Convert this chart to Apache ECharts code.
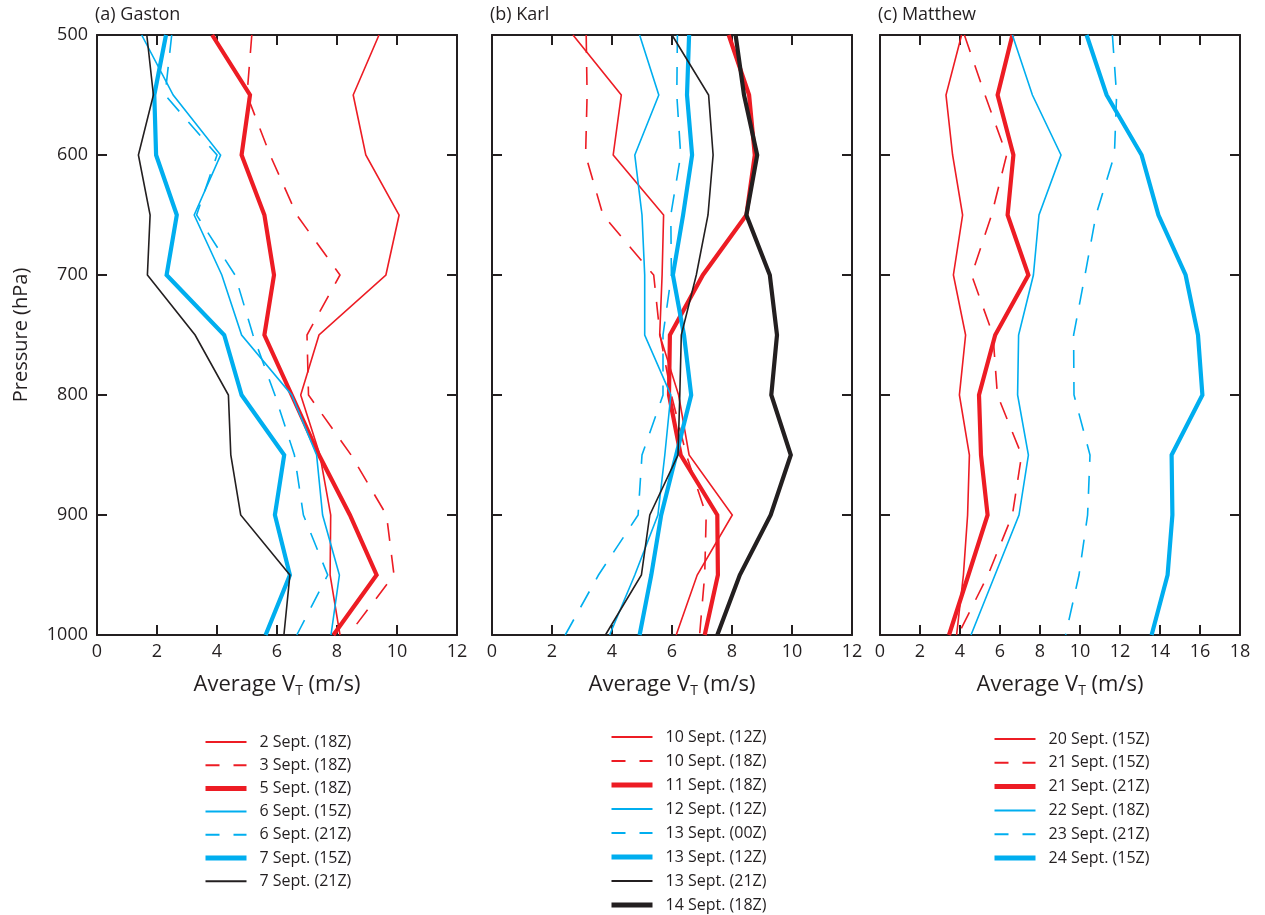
<!DOCTYPE html>
<html>
<head>
<meta charset="utf-8">
<script src="https://cdn.jsdelivr.net/npm/echarts@6/dist/echarts.min.js"></script>
<style>
  html, body { margin: 0; padding: 0; background: #fff; }
  #chart { width: 1265px; height: 915px; }
</style>
</head>
<body>
<div id="chart"></div>
<script>
// Pressure levels (hPa), shared by every profile
const pressureLevels = [500, 550, 600, 650, 700, 750, 800, 850, 900, 950, 1000];
const pressureTicks = [500, 600, 700, 800, 900, 1000];

// (a) Gaston — average tangential wind (m/s) at each level
const gaston_2Sep18Z = [9.4, 8.54, 8.96, 10.07, 9.63, 7.4, 6.79, 7.43, 7.79, 7.77, 8.1];
const gaston_3Sep18Z = [5.16, 5.0, 5.77, 6.66, 8.1, 7.0, 7.05, 8.47, 9.65, 9.9, 8.38];
const gaston_5Sep18Z = [3.84, 5.1, 4.82, 5.58, 5.9, 5.58, 6.49, 7.4, 8.43, 9.32, 7.88];
const gaston_6Sep15Z = [1.49, 2.54, 4.12, 3.24, 4.16, 4.82, 6.49, 7.32, 7.52, 8.08, 7.8];
const gaston_6Sep21Z = [2.49, 2.27, 4.0, 3.32, 4.6, 5.2, 5.93, 6.58, 6.88, 7.69, 6.66];
const gaston_7Sep15Z = [2.3, 1.91, 1.97, 2.66, 2.32, 4.24, 4.82, 6.24, 5.93, 6.43, 5.62];
const gaston_7Sep21Z = [1.66, 1.88, 1.38, 1.77, 1.68, 3.27, 4.38, 4.46, 4.79, 6.43, 6.23];

// (b) Karl
const karl_10Sep12Z = [2.7, 4.31, 4.04, 5.72, 5.67, 5.59, 6.22, 6.57, 8.01, 6.84, 6.14];
const karl_10Sep18Z = [3.14, 3.17, 3.12, 3.7, 5.39, 5.6, 5.98, 6.48, 7.14, 7.09, 6.92];
const karl_11Sep18Z = [7.89, 8.57, 8.76, 8.48, 7.03, 5.93, 5.9, 6.29, 7.51, 7.53, 7.09];
const karl_12Sep12Z = [4.92, 5.56, 4.76, 5.0, 5.09, 5.09, 5.96, 5.76, 5.53, 4.76, 3.92];
const karl_13Sep00Z = [6.18, 6.16, 6.29, 5.96, 5.98, 5.7, 5.7, 5.0, 4.87, 3.55, 2.44];
const karl_13Sep12Z = [6.57, 6.5, 6.67, 6.37, 6.03, 6.4, 6.64, 6.14, 5.64, 5.31, 4.92];
const karl_13Sep21Z = [6.0, 7.22, 7.37, 7.2, 6.81, 6.31, 6.26, 6.2, 5.26, 4.98, 3.78];
const karl_14Sep18Z = [8.12, 8.4, 8.84, 8.48, 9.26, 9.5, 9.31, 9.96, 9.29, 8.26, 7.51];

// (c) Matthew
const matthew_20Sep15Z = [4.08, 3.3, 3.63, 4.13, 3.67, 4.28, 3.97, 4.47, 4.38, 4.17, 3.83];
const matthew_21Sep15Z = [4.22, 5.25, 6.33, 5.58, 4.58, 5.65, 5.87, 7.08, 6.62, 5.4, 3.9];
const matthew_21Sep21Z = [6.62, 5.88, 6.67, 6.38, 7.42, 5.76, 4.95, 5.05, 5.38, 4.42, 3.45];
const matthew_22Sep18Z = [6.62, 7.62, 9.05, 7.95, 7.67, 6.93, 6.88, 7.42, 6.95, 5.75, 4.55];
const matthew_23Sep21Z = [11.62, 11.83, 11.72, 10.8, 10.25, 9.68, 9.7, 10.5, 10.38, 9.95, 9.28];
const matthew_24Sep15Z = [10.33, 11.33, 13.08, 13.92, 15.28, 15.9, 16.12, 14.58, 14.62, 14.38, 13.58];

const panelTitles = ['(a) Gaston', '(b) Karl', '(c) Matthew'];
const xMaxes = [12, 12, 18];

const RED = '#ed1c24', BLUE = '#00aeef', BLACK = '#231f20';
const INK = '#231f20';
const FONT = 'Open Sans';
const THIN = 1.6, THICK = 4.2;
const DASH = [18, 14];
const LEGEND_DASH = [14, 14];

// Each profile: label, values, colour, width, dashed
const panels = [
  [
    ['2 Sept. (18Z)', gaston_2Sep18Z, RED, THIN, false],
    ['3 Sept. (18Z)', gaston_3Sep18Z, RED, THIN, true],
    ['5 Sept. (18Z)', gaston_5Sep18Z, RED, THICK, false],
    ['6 Sept. (15Z)', gaston_6Sep15Z, BLUE, THIN, false],
    ['6 Sept. (21Z)', gaston_6Sep21Z, BLUE, THIN, true],
    ['7 Sept. (15Z)', gaston_7Sep15Z, BLUE, THICK, false],
    ['7 Sept. (21Z)', gaston_7Sep21Z, BLACK, THIN, false]
  ],
  [
    ['10 Sept. (12Z)', karl_10Sep12Z, RED, THIN, false],
    ['10 Sept. (18Z)', karl_10Sep18Z, RED, THIN, true],
    ['11 Sept. (18Z)', karl_11Sep18Z, RED, THICK, false],
    ['12 Sept. (12Z)', karl_12Sep12Z, BLUE, THIN, false],
    ['13 Sept. (00Z)', karl_13Sep00Z, BLUE, THIN, true],
    ['13 Sept. (12Z)', karl_13Sep12Z, BLUE, THICK, false],
    ['13 Sept. (21Z)', karl_13Sep21Z, BLACK, THIN, false],
    ['14 Sept. (18Z)', karl_14Sep18Z, BLACK, THICK, false]
  ],
  [
    ['20 Sept. (15Z)', matthew_20Sep15Z, RED, THIN, false],
    ['21 Sept. (15Z)', matthew_21Sep15Z, RED, THIN, true],
    ['21 Sept. (21Z)', matthew_21Sep21Z, RED, THICK, false],
    ['22 Sept. (18Z)', matthew_22Sep18Z, BLUE, THIN, false],
    ['23 Sept. (21Z)', matthew_23Sep21Z, BLUE, THIN, true],
    ['24 Sept. (15Z)', matthew_24Sep15Z, BLUE, THICK, false]
  ]
];

// Layout of the three frames and their legends
const gridLefts = [97, 492, 880];
const gridWidth = 360;
const gridTop = 35, gridHeight = 600;
const legendPos = [
  { left: 203, top: 733, gap: 5.2 },
  { left: 609, top: 728, gap: 6.0 },
  { left: 992, top: 730, gap: 5.8 }
];

const grid = [], xAxis = [], yAxis = [], series = [], legend = [], title = [];

panels.forEach((profiles, i) => {
  grid.push({ left: gridLefts[i], top: gridTop, width: gridWidth, height: gridHeight });

  title.push({
    text: panelTitles[i], left: gridLefts[i] - 2, top: 6, padding: 0,
    textStyle: { fontFamily: FONT, fontSize: 18, fontWeight: 'normal', color: INK }
  });

  const frameLine = { show: true, onZero: false, lineStyle: { color: INK, width: 2 } };
  const tick = { show: true, inside: true, length: 10, lineStyle: { color: INK, width: 2 } };

  // bottom axis with labels and name (V with subscript T)
  xAxis.push({
    type: 'value', gridIndex: i, position: 'bottom', min: 0, max: xMaxes[i], interval: 2,
    axisLine: frameLine, axisTick: tick, splitLine: { show: false },
    axisLabel: { fontFamily: FONT, fontSize: 18, color: INK, margin: 8 },
    name: '{m|Average V}{sub|T}{m| (m/s)}', nameLocation: 'middle', nameGap: 39,
    nameTextStyle: {
      fontFamily: FONT, fontSize: 22, color: INK,
      rich: {
        m: { fontFamily: FONT, fontSize: 22, color: INK, lineHeight: 24, verticalAlign: 'top' },
        sub: { fontFamily: FONT, fontSize: 14, color: INK, lineHeight: 14, verticalAlign: 'bottom' }
      }
    }
  });
  // top axis: ticks only
  xAxis.push({
    type: 'value', gridIndex: i, position: 'top', min: 0, max: xMaxes[i], interval: 2,
    axisLine: frameLine, axisTick: tick, splitLine: { show: false }, axisLabel: { show: false }
  });
  // left pressure axis
  yAxis.push({
    type: 'value', gridIndex: i, position: 'left', inverse: true, min: 500, max: 1000, interval: 100,
    axisLine: frameLine, axisTick: tick, splitLine: { show: false },
    axisLabel: {
      show: i === 0, fontFamily: FONT, fontSize: 18, color: INK, margin: 9,
      formatter: v => (pressureTicks.indexOf(v) >= 0 ? String(v) : '')
    },
    name: i === 0 ? 'Pressure (hPa)' : '', nameLocation: 'middle', nameRotate: 90, nameGap: 66,
    nameTextStyle: { fontFamily: FONT, fontSize: 20, color: INK }
  });
  // right axis: ticks only
  yAxis.push({
    type: 'value', gridIndex: i, position: 'right', inverse: true, min: 500, max: 1000, interval: 100,
    axisLine: frameLine, axisTick: tick, splitLine: { show: false }, axisLabel: { show: false }
  });

  profiles.forEach(([label, values, color, width, dashed]) => {
    series.push({
      name: label, type: 'line', xAxisIndex: i * 2, yAxisIndex: i * 2,
      data: values.map((v, k) => [v, pressureLevels[k]]),
      symbol: 'none', clip: false, silent: true, animation: false,
      color: color,
      lineStyle: { color: color, width: width, type: dashed ? DASH : 'solid', cap: 'butt', join: 'miter' }
    });
  });

  legend.push({
    orient: 'vertical', left: legendPos[i].left, top: legendPos[i].top,
    height: 200, padding: 0,
    itemWidth: 41, itemHeight: 14, itemGap: legendPos[i].gap,
    data: profiles.map(p => ({
      name: p[0],
      lineStyle: { width: p[3] === THICK ? 5 : 2, type: p[4] ? LEGEND_DASH : 'solid' }
    })),
    selectedMode: false,
    itemStyle: { opacity: 0 },
    lineStyle: { width: 'inherit', type: 'inherit' },
    textStyle: { fontFamily: FONT, fontSize: 16, color: INK, lineHeight: 18, padding: [0, 0, 0, 8] }
  });
});

const chart = echarts.init(document.getElementById('chart'), null, { renderer: 'canvas' });
chart.setOption({ animation: false, backgroundColor: '#fff', title, grid, xAxis, yAxis, series, legend });
</script>
</body>
</html>
